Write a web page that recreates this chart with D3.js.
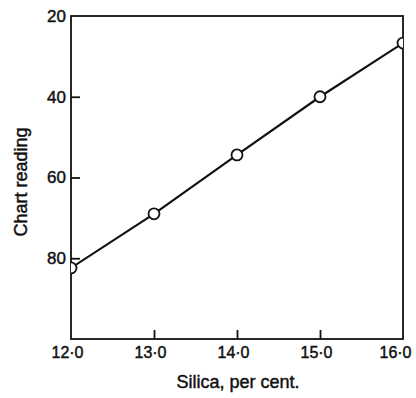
<!DOCTYPE html>
<html><head><meta charset="utf-8">
<script src="https://cdn.jsdelivr.net/npm/d3@7"></script>
<style>body{margin:0;background:#fff}svg{display:block}</style>
</head><body>
<svg id="c" width="416" height="398"></svg>
<script>
const silica = [12.0, 13.0, 14.0, 15.0, 16.0];
const reading = [82.4, 69.0, 54.4, 40.0, 26.7];
const xTicks = [12, 13, 14, 15, 16];
const yTicks = [20, 40, 60, 80];

const FONT = "'Liberation Sans', Arial, Helvetica, sans-serif";
const svg = d3.select("#c");
const L = 71, R = 403, T = 16, B = 339;
const x = d3.scaleLinear().domain([12, 16]).range([L, R]);
const y = d3.scaleLinear().domain([20, 100]).range([T, B]);

function styleText(sel, size) {
  sel.style("font-family", FONT).style("font-size", size + "px")
     .attr("fill", "#111").attr("stroke", "#111").attr("stroke-width", 0.45);
}

svg.append("defs").append("clipPath").attr("id","clip")
  .append("rect").attr("x",L).attr("y",T).attr("width",R-L).attr("height",B-T);

// frame
svg.append("rect").attr("x",L).attr("y",T).attr("width",R-L).attr("height",B-T)
  .attr("fill","none").attr("stroke","#111").attr("stroke-width",1.8);

// x axis
const xa = svg.append("g").attr("transform",`translate(0,${B})`)
  .call(d3.axisBottom(x).tickValues(xTicks).tickSize(0).tickPadding(8)
    .tickFormat(d => d3.format(".1f")(d).replace(".", "·")));
xa.select(".domain").remove();
styleText(xa.selectAll("text"), 16);
xa.selectAll("text").attr("dx", d => d === 16 ? -8 : -4);
xa.selectAll(".tick").filter(d => d > 12 && d < 16).append("line")
  .attr("y1",0).attr("y2",-9).attr("stroke","#111").attr("stroke-width",1.8);

// y axis
const ya = svg.append("g").attr("transform",`translate(${L},0)`)
  .call(d3.axisLeft(y).tickValues(yTicks).tickSize(0).tickPadding(5));
ya.select(".domain").remove();
styleText(ya.selectAll("text"), 17);
ya.selectAll(".tick").filter(d => d > 20).append("line")
  .attr("x1",0).attr("x2",9).attr("stroke","#111").attr("stroke-width",1.8);

// line + points
const g = svg.append("g").attr("clip-path","url(#clip)");
const pts = silica.map((s,i)=>[s, reading[i]]);
g.append("path").datum(pts)
  .attr("d", d3.line().x(d=>x(d[0])).y(d=>y(d[1])))
  .attr("fill","none").attr("stroke","#111").attr("stroke-width",2.2);
g.selectAll("circle").data(pts).join("circle")
  .attr("cx",d=>x(d[0])).attr("cy",d=>y(d[1])).attr("r",5.5)
  .attr("fill","#fff").attr("stroke","#111").attr("stroke-width",1.8);

// titles
styleText(svg.append("text").attr("x",238).attr("y",388).attr("text-anchor","middle")
  .text("Silica, per cent."), 18);
styleText(svg.append("text").attr("transform","translate(27,182) rotate(-90)").attr("text-anchor","middle")
  .text("Chart reading"), 18);
</script>
</body></html>
